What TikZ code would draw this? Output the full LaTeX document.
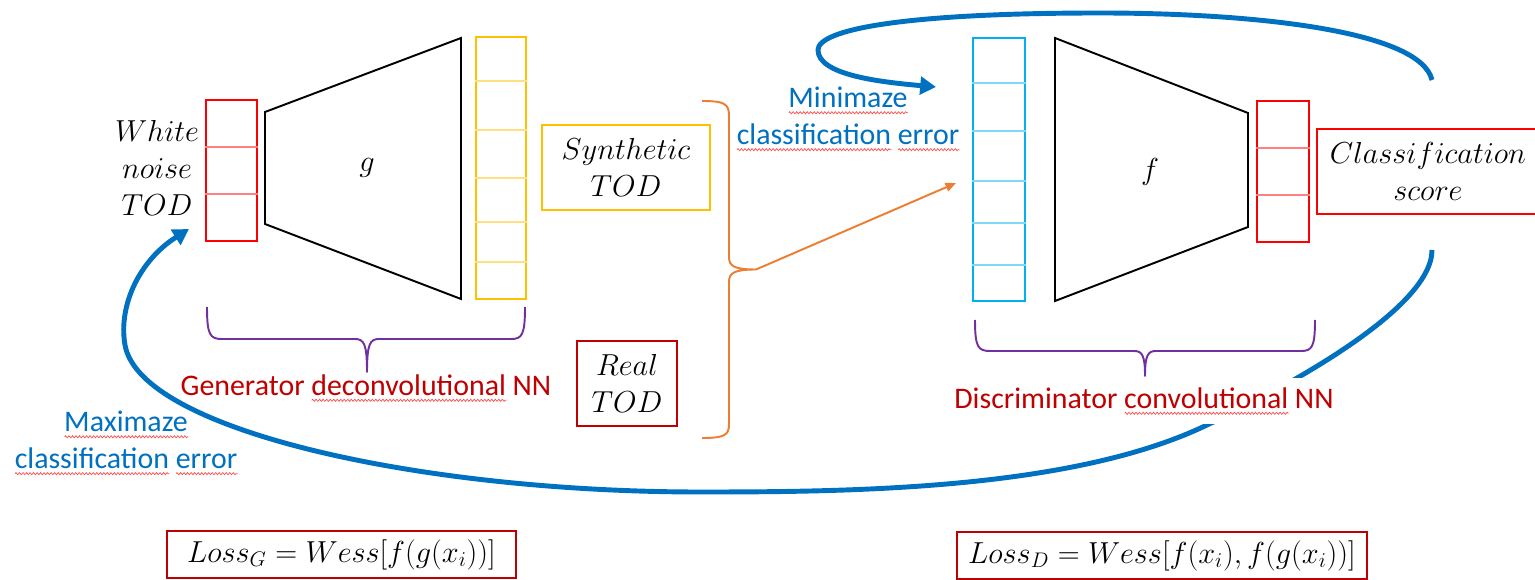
\documentclass[tikz,border=0pt]{standalone}
\usepackage{fontspec}
\setmainfont{Carlito}
\usepackage{xcolor}
\usepackage{tikz}
\usetikzlibrary{positioning,arrows.meta,calc,decorations.pathmorphing}
\definecolor{mRed}{HTML}{FF0000}
\definecolor{mDarkRed}{HTML}{C00000}
\definecolor{mGold}{HTML}{FFC000}
\definecolor{mCyan}{HTML}{00B0F0}
\definecolor{mBlue}{HTML}{0070C0}
\definecolor{mOrange}{HTML}{ED7D31}
\definecolor{mPurple}{HTML}{7030A0}
\newsavebox{\spellbox}
\newcommand{\spell}[1]{\sbox{\spellbox}{#1}\rlap{\tikz[x=1pt, y=1pt, baseline=3pt]\draw[mRed!70, line width=0.4pt, decorate, decoration={zigzag, amplitude=0.6pt, segment length=2pt}] (0,0) -- (\the\wd\spellbox,0);}#1}

\begin{document}
\begin{tikzpicture}[x=0.02cm, y=-0.02cm, font=\fontsize{17}{21}\selectfont,
  vec/.style={draw, line width=1.1pt, inner sep=0pt},
  tbox/.style={draw, line width=1.1pt, inner sep=0pt, align=center},
  trap/.style={draw=black, line width=1.1pt},
  curly/.style={line width=1.1pt, line join=round},
  fb/.style={mBlue, line width=2.8pt, -{Triangle[length=9pt, width=10pt]}}]
\useasboundingbox (0,0) rectangle (1535,580);
\clip (0,0) rectangle (1535,580);

% generator
\node[align=center] (noise) at (157,168) {$White$\\$noise$\\$TOD$};
\node[vec, draw=mRed, minimum width=1.02cm, minimum height=2.82cm] (zin) at (231.5,170.5) {};
\foreach \y in {147,194} \draw[mRed!50, line width=0.6pt] (zin.west |- 0,\y) -- (zin.east |- 0,\y);
\draw[trap] (265,112) -- (461,38) -- (461,299) -- (265,224) -- cycle;
\node (g) at (367,168) {$g$};
\node[vec, draw=mGold, minimum width=1.0cm, minimum height=5.24cm] (gout) at (501,168) {};
\foreach \y in {81,130,178,222,262} \draw[mGold!50, line width=0.6pt] (gout.west |- 0,\y) -- (gout.east |- 0,\y);
\draw[curly, mPurple] (207,307) .. controls (207,335) and (210,339) .. (222,339) -- (355,339) .. controls (364,339) and (367,344) .. (367,372) .. controls (367,344) and (370,339) .. (379,339) -- (511,339) .. controls (522,339) and (525,335) .. (525,307);
\node[text=mDarkRed] (gname) at (366,388) {Generator \spell{deconvolutional} NN};

% samples
\node[tbox, draw=mGold, minimum width=3.36cm, minimum height=1.7cm] (synth) at (626,167.5) {$Synthetic$\\$TOD$};
\node[tbox, draw=mDarkRed, minimum width=2cm, minimum height=1.7cm] (real) at (627,383.5) {$Real$\\$TOD$};
\draw[curly, mOrange] (702,101) .. controls (725,101) and (729,104) .. (729,116) -- (729,257) .. controls (729,266) and (734,269.5) .. (756,269.5) .. controls (734,269.5) and (729,273) .. (729,282) -- (729,424) .. controls (729,435) and (725,438) .. (702,438);
\coordinate (mix) at (756,269.5);

% discriminator
\node[vec, draw=mCyan, minimum width=1.04cm, minimum height=5.26cm] (dvec) at (999,169.5) {};
\foreach \y in {83,131,181,223,265} \draw[mCyan!50, line width=0.6pt] (dvec.west |- 0,\y) -- (dvec.east |- 0,\y);
\draw[trap] (1055,38) -- (1248,113) -- (1248,227) -- (1055,301) -- cycle;
\node (f) at (1150,172) {$f$};
\node[vec, draw=mRed, minimum width=1.04cm, minimum height=2.82cm] (dout) at (1283,171.5) {};
\foreach \y in {148,195} \draw[mRed!50, line width=0.6pt] (dout.west |- 0,\y) -- (dout.east |- 0,\y);
\node[tbox, draw=mRed, minimum width=4.44cm, minimum height=1.7cm] (score) at (1428,171.5) {$Classification$\\$score$};
\draw[curly, mPurple] (975,320) .. controls (975,347) and (978,351) .. (990,351) -- (1134,351) .. controls (1142,351) and (1145,355) .. (1145,376) .. controls (1145,355) and (1148,351) .. (1156,351) -- (1301,351) .. controls (1312,351) and (1315,347) .. (1315,320);
\draw[mOrange, line width=1.1pt, -{Triangle[length=6pt, width=5pt]}] (mix) -- ($(dvec.west)+(-16,13.5)$);

% feedback loops
\coordinate (topfb) at (1432,80);
\coordinate (dvecin) at (936,87);
\draw[fb] (topfb) .. controls (1420,30) and (1250,13) .. (1100,13) .. controls (900,13) and (818,30) .. (818,50) .. controls (818,75) and (880,82) .. (dvecin);
\coordinate (botfb) at (1432,250);
\coordinate (zinin) at (189,229);
\draw[fb] (botfb) .. controls (1432,310) and (1279,391) .. (1207,425) .. controls (1072,490) and (850,492) .. (700,492) .. controls (420,492) and (140,430) .. (125,345) .. controls (118,305) and (140,260) .. (zinin);
\node[text=mDarkRed, fill=white, minimum height=0.94cm] (dname) at (1144,401) {Discriminator \spell{convolutional} NN};
\node[text=mBlue, align=center] (minlbl) at (848,119) {\spell{Minimaze}\\\spell{classification} \spell{error}};
\node[text=mBlue, align=center] (maxlbl) at (126,443) {\spell{Maximaze}\\\spell{classification} \spell{error}};

% losses
\node[tbox, draw=mDarkRed, minimum width=6.98cm, minimum height=0.94cm] (lossg) at (341.5,554.5) {$Loss_G = Wess[f(g(x_i))]$};
\node[tbox, draw=mDarkRed, minimum width=8.2cm, minimum height=0.94cm] (lossd) at (1162,555.5) {$Loss_D = Wess[f(x_i), f(g(x_i))]$};
\end{tikzpicture}
\end{document}
